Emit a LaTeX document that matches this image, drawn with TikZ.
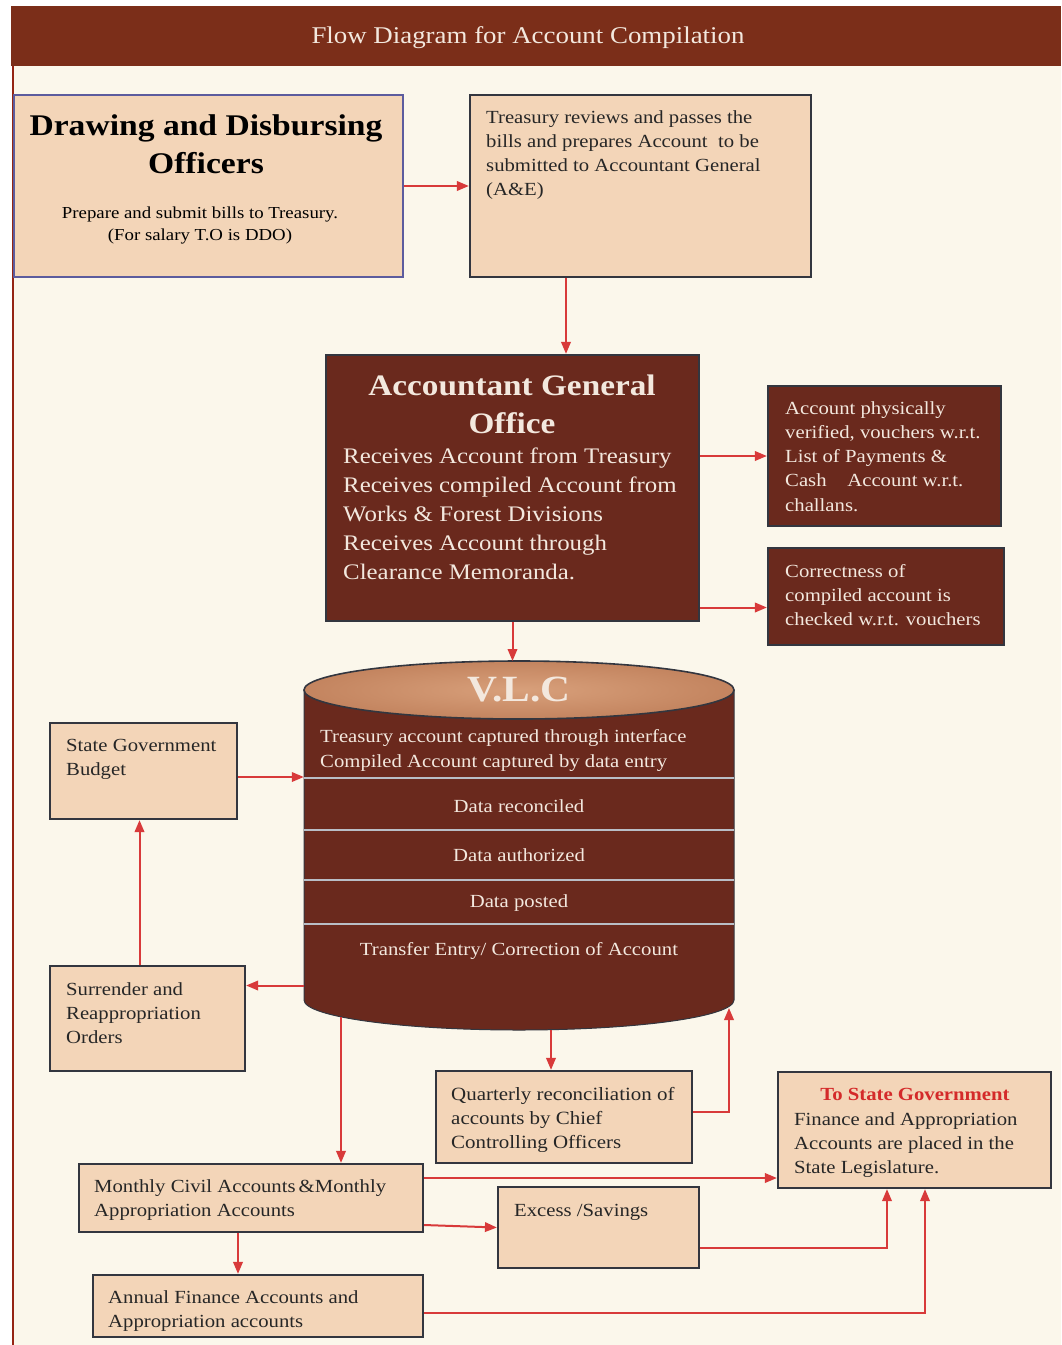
\documentclass[tikz,border=0pt]{standalone}
\usepackage{fontspec}
\setmainfont[FakeStretch=1.12]{Liberation Serif}
\usepackage{tikz}
\usetikzlibrary{arrows.meta, positioning, calc}

\definecolor{pagecream}{HTML}{FBF7EB}
\definecolor{barbrown}{HTML}{7B2E19}
\definecolor{agbrown}{HTML}{6A291D}
\definecolor{peach}{HTML}{F3D5B8}
\definecolor{boxline}{HTML}{33363F}
\definecolor{ddoline}{HTML}{5C5C9E}
\definecolor{arrowred}{HTML}{D83A3A}
\definecolor{lighttext}{HTML}{F3E8DE}
\definecolor{sepgrey}{HTML}{B9BEC6}
\definecolor{titlered}{HTML}{D42A2A}
\definecolor{vlclight}{HTML}{D8A07B}
\definecolor{vlcdark}{HTML}{C3845F}

\newcommand{\fsz}[2]{\fontsize{#1}{#2}\selectfont}

\begin{document}
\begin{tikzpicture}[
    x=1pt, y=1pt,
    >={Triangle[length=12pt, width=9.5pt]},
    pbox/.style={
        draw=boxline,
        fill=peach,
        line width=2.2pt,
        inner sep=0pt
    },
    dbox/.style={
        draw=boxline,
        fill=agbrown,
        line width=2.2pt,
        inner sep=0pt
    },
    txt/.style={
        anchor=north west,
        align=left,
        inner sep=0pt,
        text=black!85
    },
    ltxt/.style={
        txt,
        text=lighttext
    },
    arr/.style={
        ->,
        draw=arrowred,
        line width=2pt
    }
]
\useasboundingbox (0,0) rectangle (1061,-1345);
\fill[white] (0,0) rectangle (1061,-1345);
\fill[pagecream] (12,-6) rectangle (1061,-1345);

% Title bar
\fill[barbrown] (11,-6) rectangle (1061,-66);
\draw[barbrown!80!red, line width=1.2pt] (13,-66) -- (13,-1345);
\node[text=lighttext, font=\fsz{24}{28}] (title) at (528,-38)
    {Flow Diagram for Account Compilation};

% Top row
\node[pbox, draw=ddoline, minimum width=389pt, minimum height=182pt] (ddo) at (208.5,-186) {};
\node[align=center, font=\bfseries\fsz{30}{38}, inner sep=0pt] (ddotitle) at (206,-144)
    {Drawing and Disbursing\\Officers};
\node[align=center, font=\fsz{16.8}{22}, inner sep=0pt] (ddosub) at (200,-225)
    {Prepare and submit bills to Treasury.\\(For salary T.O is DDO)};

\node[pbox, minimum width=341pt, minimum height=182pt] (treas) at (640.5,-186) {};
\node[txt, font=\fsz{18.5}{24}] (treastext) at (486,-110)
    {Treasury reviews and passes the\\bills and prepares Account\ \ to be\\submitted to Accountant General\\(A\&E)};

% Accountant General
\node[dbox, minimum width=373pt, minimum height=266pt] (ago) at (512.5,-488) {};
\node[align=center, text=lighttext, font=\bfseries\fsz{29.7}{38}, inner sep=0pt] (agotitle) at (512,-404)
    {Accountant General\\Office};
\node[ltxt, font=\fsz{22.2}{29}] (agotext) at (343,-448)
    {Receives Account from Treasury\\Receives compiled Account from\\Works \& Forest Divisions\\Receives Account through\\Clearance Memoranda.};

\node[dbox, minimum width=233pt, minimum height=140pt] (verif) at (884.5,-456) {};
\node[ltxt, font=\fsz{18.5}{24.3}] (veriftext) at (785,-401)
    {Account physically\\verified, vouchers w.r.t.\\List of Payments \&\\Cash\ \ \ \ Account w.r.t.\\challans.};

\node[dbox, minimum width=236pt, minimum height=97pt] (correct) at (886,-596.5) {};
\node[ltxt, font=\fsz{18.5}{24.3}] (correcttext) at (785,-564)
    {Correctness of\\compiled account is\\checked w.r.t. vouchers};

% V.L.C cylinder
\node[inner sep=0pt, minimum width=430pt, minimum height=310pt] (vlc) at (519,-845) {};
\fill[agbrown] (304,-690) -- (304,-1000)
    arc[start angle=180, end angle=360, x radius=215, y radius=30] -- (734,-690) -- cycle;
\draw[boxline, line width=1pt] (304,-690) -- (304,-1000)
    arc[start angle=180, end angle=360, x radius=215, y radius=30] -- (734,-690);
\shade[inner color=vlclight, outer color=vlcdark]
    (519,-690) ellipse[x radius=215, y radius=29];
\draw[boxline, line width=1.6pt] (519,-690) ellipse[x radius=215, y radius=29];
\foreach \yy in {778,830,880,924}
    \draw[sepgrey, line width=1.4pt] (304,-\yy) -- (734,-\yy);
\coordinate (vlctop) at (519,-661);
\coordinate (vlcmonth) at (341,-1017);
\coordinate (vlcquart) at (551,-1030);
\coordinate (vlcback) at (729,-1008);

\node[text=lighttext, font=\bfseries\fsz{37}{44}] (vlctitle) at (519,-690) {V.L.C};
\node[ltxt, font=\fsz{18.5}{25}] (vlccapture) at (320,-729)
    {Treasury account captured through interface\\Compiled Account captured by data entry};
\node[text=lighttext, font=\fsz{18.5}{22}, inner sep=0pt] (vlcrec) at (519,-806) {Data reconciled};
\node[text=lighttext, font=\fsz{18.5}{22}, inner sep=0pt] (vlcauth) at (519,-855) {Data authorized};
\node[text=lighttext, font=\fsz{18.5}{22}, inner sep=0pt] (vlcpost) at (519,-903) {Data posted};
\node[text=lighttext, font=\fsz{18.5}{22}, inner sep=0pt] (vlctrans) at (519,-951) {Transfer Entry/ Correction of Account};

% Left side
\node[pbox, minimum width=187pt, minimum height=96pt] (sgb) at (143.5,-771) {};
\node[txt, font=\fsz{18.5}{24}] (sgbtext) at (66,-739) {State Government\\Budget};

\node[pbox, minimum width=195pt, minimum height=105pt] (surr) at (147.5,-1018.5) {};
\node[txt, font=\fsz{18.5}{24}] (surrtext) at (66,-982) {Surrender and\\Reappropriation\\Orders};

% Bottom boxes
\node[pbox, minimum width=256pt, minimum height=92pt] (quart) at (564,-1117) {};
\node[txt, font=\fsz{18.7}{24}] (quarttext) at (451,-1087)
    {Quarterly reconciliation of\\accounts by Chief\\Controlling Officers};

\node[pbox, minimum width=344pt, minimum height=68pt] (month) at (251,-1198) {};
\node[txt, font=\fsz{18.5}{24}] (monthtext) at (94,-1179)
    {Monthly Civil Accounts\,\&Monthly\\Appropriation Accounts};

\node[pbox, minimum width=201pt, minimum height=81pt] (excess) at (598.5,-1227.5) {};
\node[txt, font=\fsz{18.5}{24}] (excesstext) at (514,-1204) {Excess /Savings};

\node[pbox, minimum width=273pt, minimum height=116pt] (tostate) at (914.5,-1130) {};
\node[text=titlered, font=\bfseries\fsz{18.5}{24}, inner sep=0pt] (tostatetitle) at (915,-1094)
    {To State Government};
\node[txt, font=\fsz{18.5}{24}] (tostatetext) at (794,-1112)
    {Finance and Appropriation\\Accounts are placed in the\\State Legislature.};

\node[pbox, minimum width=330pt, minimum height=62pt] (annual) at (258,-1306) {};
\node[txt, font=\fsz{18.5}{24}] (annualtext) at (108,-1290)
    {Annual Finance Accounts and\\Appropriation accounts};

% Connectors
\draw[arr] (ddo.east) -- (treas.west);
\draw[arr] ([xshift=-74.5pt]treas.south) -- ([xshift=-74.5pt]treas.south |- ago.north);
\draw[arr] (ago.east |- verif.west) -- (verif.west);
\draw[arr] ([yshift=-11pt]correct.west -| ago.east) -- ([yshift=-11pt]correct.west);
\draw[arr] (ago.south) -- (ago.south |- vlctop);
\draw[arr] ([yshift=-6pt]sgb.east) -- ([yshift=-6pt]sgb.east -| vlc.west);
\draw[arr] ([yshift=33pt]surr.east -| vlc.west) -- ([yshift=33pt]surr.east);
\draw[arr] ([xshift=-8pt]surr.north) -- ([xshift=-8pt]surr.north |- sgb.south);
\draw[arr] (vlcmonth) -- (vlcmonth |- month.north);
\draw[arr] (vlcquart) -- (vlcquart |- quart.north);
\draw[arr] ([yshift=5pt]quart.east) -| (vlcback);
\draw[arr] ([yshift=20pt]month.east) -- ([yshift=20pt]month.east -| tostate.west);
\draw[arr] ([yshift=-27pt]month.east) -- (excess.west);
\draw[arr] ([yshift=-20.5pt]excess.east) -| ([xshift=-27.5pt]tostate.south);
\draw[arr] ([xshift=-13pt]month.south) -- ([xshift=-13pt]month.south |- annual.north);
\draw[arr] ([yshift=-7pt]annual.east) -| ([xshift=10.5pt]tostate.south);

\end{tikzpicture}
\end{document}
